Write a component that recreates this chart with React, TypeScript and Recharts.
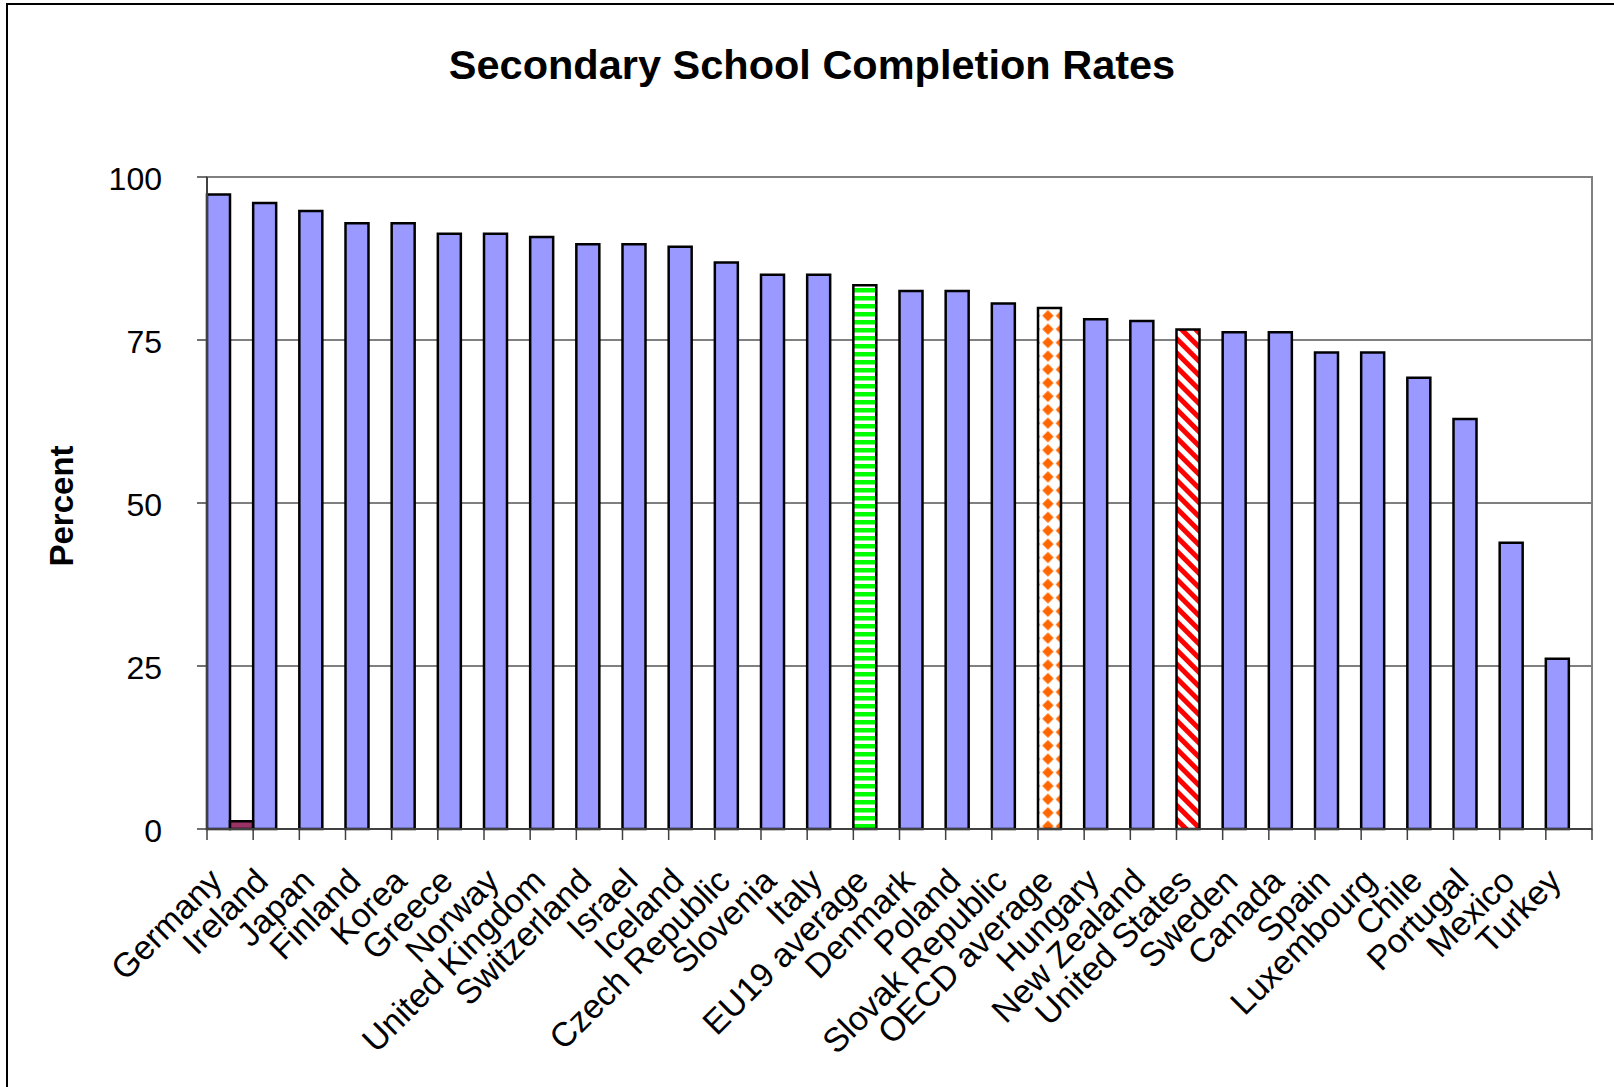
import React from 'react';
import { BarChart, Bar, XAxis, YAxis, CartesianGrid, Cell, ReferenceArea } from 'recharts';

const COUNTRIES = [
  'Germany', 'Ireland', 'Japan', 'Finland', 'Korea', 'Greece', 'Norway', 'United Kingdom',
  'Switzerland', 'Israel', 'Iceland', 'Czech Republic', 'Slovenia', 'Italy', 'EU19 average',
  'Denmark', 'Poland', 'Slovak Republic', 'OECD average', 'Hungary', 'New Zealand',
  'United States', 'Sweden', 'Canada', 'Spain', 'Luxembourg', 'Chile', 'Portugal', 'Mexico', 'Turkey',
];

const RATES = [
  97.3, 96.0, 94.8, 92.9, 92.9, 91.3, 91.3, 90.8, 89.7, 89.7, 89.3, 86.9, 85.0, 85.0, 83.4,
  82.5, 82.5, 80.6, 79.9, 78.2, 77.9, 76.6, 76.2, 76.2, 73.1, 73.1, 69.2, 62.9, 43.9, 26.1,
];

// second series, only one tiny value shows up (first category)
const SECOND = [1.2, ...Array(29).fill(null)];

const Y_TICKS = [0, 25, 50, 75, 100];

const data = COUNTRIES.map((name, i) => ({ name, rate: RATES[i], second: SECOND[i] }));

const W = 1614;
const H = 1087;
const PLOT = { left: 207, top: 177, right: 1592, bottom: 829 };
const BAND = (PLOT.right - PLOT.left) / COUNTRIES.length;
const FONT = '"Liberation Sans", Arial, sans-serif';
const AXIS = '#404040';

const barFill = (name: string) => {
  if (name === 'EU19 average') return 'url(#eu19)';
  if (name === 'OECD average') return 'url(#oecd)';
  if (name === 'United States') return 'url(#us)';
  return '#9999FF';
};

const CategoryTick = (props: any) => {
  const { x, y, payload, index } = props;
  const half = BAND / 2;
  const tx = x - 6;
  const ty = y + 54;
  return (
    <g>
      <line x1={x - half} x2={x - half} y1={y} y2={y + 11} stroke={AXIS} strokeWidth={1.5} />
      {index === COUNTRIES.length - 1 && (
        <line x1={x + half} x2={x + half} y1={y} y2={y + 11} stroke={AXIS} strokeWidth={1.5} />
      )}
      <text
        x={tx}
        y={ty}
        transform={`rotate(-45, ${tx}, ${ty})`}
        textAnchor="end"
        fontSize={34}
        fontFamily={FONT}
        fill="#000"
      >
        {payload.value}
      </text>
    </g>
  );
};

const PercentTick = (props: any) => {
  const { x, y, payload } = props;
  return (
    <text x={x} y={y + 13} textAnchor="end" fontSize={32} fontFamily={FONT} fill="#000">
      {payload.value}
    </text>
  );
};

export default function App() {
  return (
    <div style={{ position: 'absolute', left: 0, top: 0, width: W, height: H, overflow: 'hidden', background: '#fff' }}>
      <div style={{ position: 'absolute', left: 6, top: 3, width: 1700, height: 1200, border: '2px solid #000' }} />
      <BarChart
        width={W}
        height={H}
        data={data}
        barCategoryGap={0}
        barGap={0}
        margin={{ top: PLOT.top, right: W - PLOT.right, left: PLOT.left - 100, bottom: H - PLOT.bottom - 40 }}
        style={{ position: 'absolute', left: 0, top: 0 }}
      >
        <defs>
          <pattern id="eu19" width="8" height="8" patternUnits="userSpaceOnUse">
            <rect width="8" height="8" fill="#fff" />
            <rect width="8" height="4.5" fill="#00FF00" />
          </pattern>
          <pattern id="oecd" width="19" height="19" patternUnits="userSpaceOnUse" patternTransform="rotate(45)">
            <rect width="19" height="19" fill="#fff" />
            <rect width="8" height="8" x="0.75" y="0.75" fill="#FF6600" />
            <rect width="8" height="8" x="10.25" y="10.25" fill="#FF6600" />
          </pattern>
          <pattern id="us" width="10" height="10" patternUnits="userSpaceOnUse" patternTransform="rotate(-45)">
            <rect width="10" height="10" fill="#fff" />
            <rect width="5" height="10" fill="#FF0000" />
          </pattern>
        </defs>
        <CartesianGrid vertical={false} horizontalValues={[25, 50, 75]} stroke="#000" strokeWidth={1} />
        <ReferenceArea y1={0} y2={100} fill="none" stroke="#808080" strokeWidth={2} />
        <XAxis
          dataKey="name"
          interval={0}
          height={40}
          tickLine={false}
          tickSize={0}
          tickMargin={0}
          axisLine={{ stroke: AXIS, strokeWidth: 2 }}
          tick={<CategoryTick />}
        />
        <YAxis
          width={100}
          domain={[0, 100]}
          ticks={Y_TICKS}
          interval={0}
          tickSize={10}
          tickMargin={35}
          tickLine={{ stroke: AXIS, strokeWidth: 1.5 }}
          axisLine={{ stroke: AXIS, strokeWidth: 2 }}
          tick={<PercentTick />}
        />
        <Bar dataKey="rate" stroke="#000" strokeWidth={2.5} isAnimationActive={false}>
          {data.map((d) => (
            <Cell key={d.name} fill={barFill(d.name)} />
          ))}
        </Bar>
        <Bar dataKey="second" fill="#993366" stroke="#000" strokeWidth={2.5} isAnimationActive={false} />
      </BarChart>
      <svg width={W} height={H} style={{ position: 'absolute', left: 0, top: 0, pointerEvents: 'none' }}>
        <text x={812} y={79} textAnchor="middle" fontSize={41.5} fontWeight="bold" fontFamily={FONT} fill="#000">
          Secondary School Completion Rates
        </text>
        <text
          x={73}
          y={506}
          transform="rotate(-90, 73, 506)"
          textAnchor="middle"
          fontSize={33}
          fontWeight="bold"
          fontFamily={FONT}
          fill="#000"
        >
          Percent
        </text>
      </svg>
    </div>
  );
}
